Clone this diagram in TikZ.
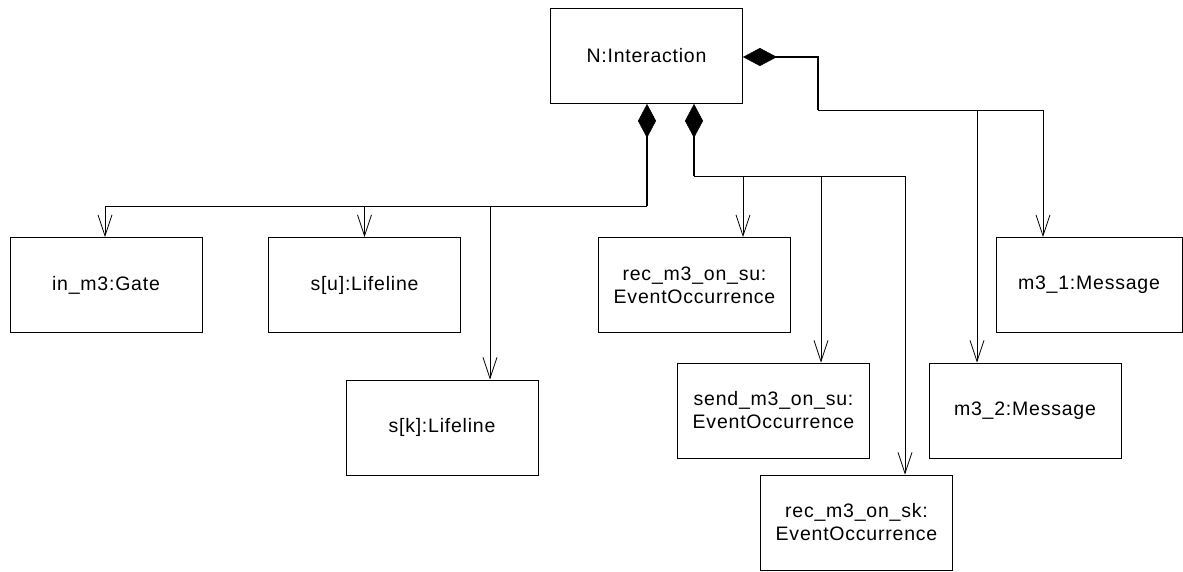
\documentclass[tikz,border=0pt]{standalone}
\usepackage{fontspec}
\setmainfont[LetterSpace=4]{Liberation Sans}
\usetikzlibrary{arrows.meta}
\begin{document}
\begin{tikzpicture}[x=1pt,y=-1pt,
  box/.style={draw,line width=0.8pt,minimum width=192pt,minimum height=95pt,inner sep=0pt,align=center,
    font=\fontsize{19.5}{23}\selectfont},
  comp/.style={line width=1.8pt,{Diamond[length=34pt,width=18pt,line width=0.5pt]}-},
  bus/.style={line width=1pt},
  arr/.style={line width=0.8pt,-{Straight Barb[length=21pt,width=14pt,line width=0.8pt]}}]
\useasboundingbox (0,0) rectangle (1183,571);
% nodes
\node[box] (N) at (646.5,56) {N:Interaction};
\node[box] (inm3) at (106,285) {in\_m3:Gate};
\node[box] (su) at (364.5,285) {s[u]:Lifeline};
\node[box] (sk) at (442,427.5) {s[k]:Lifeline};
\node[box] (recsu) at (694.5,285) {rec\_m3\_on\_su:\\EventOccurrence};
\node[box] (sendsu) at (773.5,410.5) {send\_m3\_on\_su:\\EventOccurrence};
\node[box] (recsk) at (856.5,522.5) {rec\_m3\_on\_sk:\\EventOccurrence};
\node[box,minimum width=186pt] (m31) at (1089,285) {m3\_1:Message};
\node[box] (m32) at (1025,410.5) {m3\_2:Message};
% junction coordinates
\coordinate (jL) at (647,206);
\coordinate (jLa) at (105,206);
\coordinate (jLb) at (364.5,206);
\coordinate (jLc) at (490,206);
\coordinate (jC) at (694,176);
\coordinate (jCa) at (743,176);
\coordinate (jCb) at (821,176);
\coordinate (jCc) at (905,176);
\coordinate (jR0) at (818,57);
\coordinate (jR) at (818,110);
\coordinate (jRa) at (977,110);
\coordinate (jRb) at (1043,110);
% left composition
\draw[comp] (N.south -| jL) -- (jL);
\draw[bus] (jL) -- (jLa);
\draw[arr] (jLa) -- (jLa |- inm3.north);
\draw[arr] (jLb) -- (jLb |- su.north);
\draw[arr] (jLc) -- (jLc |- sk.north);
% center composition
\draw[comp] (N.south -| jC) -- (jC);
\draw[bus] (jC) -- (jCc);
\draw[arr] (jCa) -- (jCa |- recsu.north);
\draw[arr] (jCb) -- (jCb |- sendsu.north);
\draw[arr] (jCc) -- (jCc |- recsk.north);
% right composition
\draw[comp] (N.east |- jR0) -- (jR0) -- (jR);
\draw[bus] (jR) -- (jRb);
\draw[arr] (jRa) -- (jRa |- m32.north);
\draw[arr] (jRb) -- (jRb |- m31.north);
\end{tikzpicture}
\end{document}
